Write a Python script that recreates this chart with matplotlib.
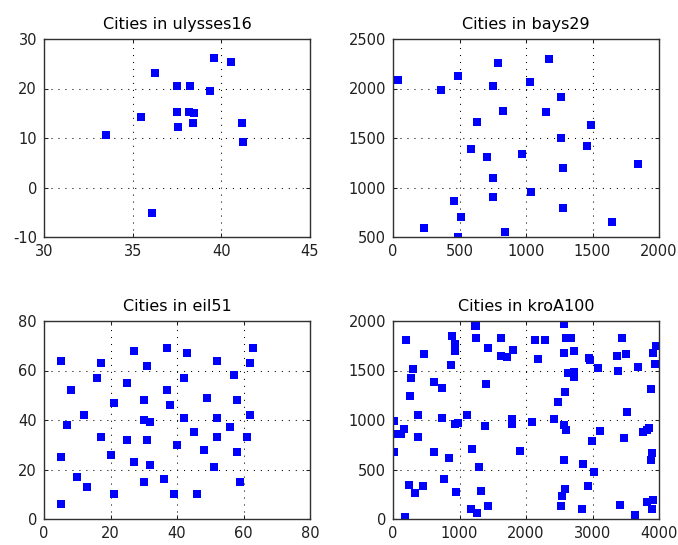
import matplotlib
matplotlib.use("Agg")
from matplotlib import pyplot as plt

# city coordinates
ulysses16_x = [38.24, 39.57, 40.56, 36.26, 33.48, 37.56, 38.42, 37.52, 41.23, 41.17, 36.08, 38.47, 38.15, 37.51, 35.49, 39.36]
ulysses16_y = [20.42, 26.15, 25.32, 23.12, 10.54, 12.19, 13.11, 20.44, 9.10, 13.05, -5.21, 15.13, 15.35, 15.17, 14.32, 19.56]

bays29_x = [1150, 630, 40, 750, 750, 1030, 1650, 1490, 790, 710, 840, 1170, 970, 510, 750,
            1280, 230, 460, 1040, 590, 830, 490, 1840, 1260, 1280, 490, 1460, 1260, 360]
bays29_y = [1760, 1660, 2090, 1100, 2030, 2070, 650, 1630, 2260, 1310, 550, 2300, 1340, 700, 900,
            1200, 590, 860, 950, 1390, 1770, 500, 1240, 1500, 790, 2130, 1420, 1910, 1980]

eil51_x = [37, 49, 52, 20, 40, 21, 17, 31, 52, 51, 42, 31, 5, 12, 36, 52, 27, 17, 13, 57, 62, 42, 16, 8, 7,
           27, 30, 43, 58, 58, 37, 38, 46, 61, 62, 63, 32, 45, 59, 5, 10, 21, 5, 30, 39, 32, 25, 25, 48, 56, 30]
eil51_y = [52, 49, 64, 26, 30, 47, 63, 62, 33, 21, 41, 32, 25, 42, 16, 41, 23, 33, 13, 58, 42, 57, 57, 52, 38,
           68, 48, 67, 48, 27, 69, 46, 10, 33, 63, 69, 22, 35, 15, 6, 17, 10, 64, 15, 10, 39, 32, 55, 28, 37, 40]

kroA100_x = [1380, 2848, 3510, 457, 3888, 984, 2721, 1286, 2716, 738, 1251, 2728, 3815, 3683, 1247, 123, 1234,
             252, 611, 2576, 928, 53, 1807, 274, 2574, 178, 2678, 1795, 3384, 3520, 1256, 1424, 3913, 3085,
             2573, 463, 3875, 298, 3479, 2542, 3955, 1323, 3447, 2936, 1621, 3373, 1393, 3874, 938, 3022,
             2482, 3854, 376, 2519, 2945, 953, 2628, 2097, 890, 2139, 2421, 2290, 1115, 2588, 327, 241, 1917,
             2991, 2573, 19, 3911, 872, 2863, 929, 839, 3893, 2178, 3822, 378, 1178, 2599, 3416, 2961, 611,
             3113, 2597, 2586, 161, 1429, 742, 1625, 1187, 1787, 22, 3640, 3756, 3940, 190, 762, 1714]
kroA100_y = [939, 96, 1671, 334, 666, 965, 1482, 525, 1432, 1325, 1832, 1698, 169, 1533, 1945, 862, 1946,
             1240, 673, 1676, 1700, 857, 1711, 1420, 946, 24, 1825, 962, 1498, 1079, 61, 1728, 192, 1528,
             1969, 1670, 598, 1513, 821, 236, 1743, 280, 1830, 337, 1830, 1646, 1368, 1318, 955, 474,
             1183, 923, 825, 135, 1622, 268, 1479, 981, 1846, 1806, 1007, 1810, 1052, 302, 265, 341, 687,
             792, 599, 674, 1673, 1559, 558, 1766, 620, 102, 1619, 899, 1048, 100, 901, 143, 1605, 1384,
             885, 1830, 1286, 906, 134, 1025, 1651, 706, 1009, 987, 43, 882, 1570, 1812, 403, 1638]

names = ["ulysses16", "bays29", "eil51", "kroA100"]
xs = [ulysses16_x, bays29_x, eil51_x, kroA100_x]
ys = [ulysses16_y, bays29_y, eil51_y, kroA100_y]
xlims = [(30, 45), (0, 2000), (0, 80), (0, 4000)]
ylims = [(-10, 30), (500, 2500), (0, 80), (0, 2000)]
xticks = [[30, 35, 40, 45], [0, 500, 1000, 1500, 2000], [0, 20, 40, 60, 80], [0, 1000, 2000, 3000, 4000]]
yticks = [[-10, 0, 10, 20, 30], [500, 1000, 1500, 2000, 2500], [0, 20, 40, 60, 80], [0, 500, 1000, 1500, 2000]]

plt.rcParams['font.family'] = ['DejaVu Sans']
plt.rcParams['axes.unicode_minus'] = False  # plain hyphen like the original
fig = plt.figure(figsize=(6.78, 5.45), dpi=100)

lefts = [44, 393, 44, 393]
tops = [39, 39, 321, 321]
W, H = 678.0, 545.0

for i in range(4):
    ax = fig.add_axes([lefts[i] / W, 1 - (tops[i] + 198) / H, 266 / W, 198 / H])
    ax.plot(xs[i], ys[i], 's', color=(0, 0, 1), markersize=5.6, markeredgewidth=0)
    ax.set_xlim(xlims[i])
    ax.set_ylim(ylims[i])
    ax.set_xticks(xticks[i])
    ax.set_yticks(yticks[i])
    ax.grid(True, color='black', linestyle=(0, (1, 5.7)), linewidth=0.75)
    ax.tick_params(direction='in', length=3, width=0.75, labelsize=10.5, pad=5,
                   top=True, right=True, colors='#202020')
    for s in ax.spines.values():
        s.set_linewidth(1.0)
        s.set_color('#303030')
    ax.set_title("Cities in " + names[i], fontsize=11.5, pad=7)

fig.savefig("out.png", dpi=100)
